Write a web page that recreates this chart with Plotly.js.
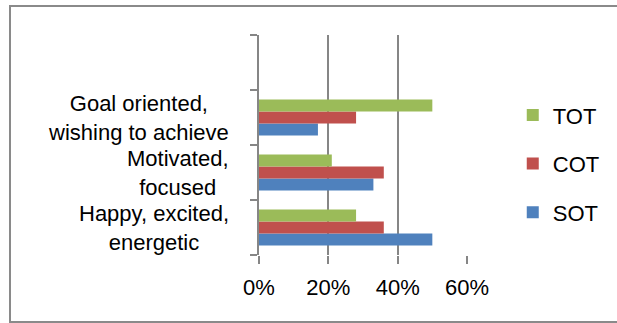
<!DOCTYPE html>
<html>
<head>
<meta charset="utf-8">
<script src="https://cdn.plot.ly/plotly-3.0.1.min.js"></script>
<style>
  html, body { margin: 0; padding: 0; background: #fff; }
  #wrap { position: relative; width: 617px; height: 323px; overflow: hidden; }
  #chart { position: absolute; left: 0; top: 0; width: 617px; height: 323px; }
  #frame { position: absolute; left: 9px; top: 5px; width: 640px; height: 314px;
           border-left: 2px solid #8a8a8a; border-top: 2px solid #8a8a8a; border-bottom: 2px solid #8a8a8a;
           pointer-events: none; }
</style>
</head>
<body>
<div id="wrap">
  <div id="chart"></div>
  <div id="frame"></div>
</div>
<script>
// Categories, bottom to top (top slot of the axis is empty)
const categories = ["Happy, excited,<br>energetic", "Motivated,<br>focused", "Goal oriented,<br>wishing to achieve"];
const seriesNames = ["SOT", "COT", "TOT"];
const SOT = [0.50, 0.33, 0.17];
const COT = [0.36, 0.36, 0.28];
const TOT = [0.28, 0.21, 0.50];
const colors = ["#4F81BD", "#C0504D", "#9BBB59"];
const xTickVals = [0, 0.2, 0.4, 0.6];
const xTickText = ["0%", "20%", "40%", "60%"];
const slotCount = 4;

const font = "Liberation Sans, Arial, sans-serif";
const pos = categories.map((c, i) => i);
const values = [SOT, COT, TOT];

const traces = values.map((v, k) => ({
  type: "bar",
  orientation: "h",
  name: seriesNames[k],
  x: v,
  y: pos,
  marker: { color: colors[k] },
  legendgroup: seriesNames[k],
  legendrank: values.length - k,
  hoverinfo: "none"
}));

const yBounds = [];
for (let i = 0; i <= slotCount; i++) yBounds.push(i - 0.5);

const annotations = categories.map((c, i) => ({
  xref: "paper", yref: "y",
  x: 0, xshift: -29,
  y: i,
  text: c,
  showarrow: false,
  xanchor: "right",
  yanchor: "middle",
  align: "center",
  borderpad: 0,
  font: { family: font, size: 22, color: "#000" }
}));

const layout = {
  width: 617, height: 323,
  margin: { l: 259, r: 147, t: 35, b: 68 },
  paper_bgcolor: "#fff",
  plot_bgcolor: "#fff",
  barmode: "group",
  bargap: 0.345,
  bargroupgap: 0,
  showlegend: true,
  legend: {
    x: 1.22, xanchor: "left",
    y: 0.731, yanchor: "top",
    traceorder: "grouped",
    tracegroupgap: 17,
    font: { family: font, size: 22, color: "#000" },
    bgcolor: "rgba(0,0,0,0)"
  },
  xaxis: {
    range: [0, 0.6],
    tickvals: xTickVals,
    ticktext: xTickText,
    showgrid: true,
    gridcolor: "#868686",
    gridwidth: 2,
    zeroline: false,
    showline: false,
    ticks: "outside",
    ticklen: 8,
    tickwidth: 2,
    tickcolor: "#868686",
    ticklabelstandoff: 5,
    tickfont: { family: font, size: 22, color: "#000" },
    fixedrange: true
  },
  yaxis: {
    range: [-0.5, slotCount - 0.5],
    tickvals: yBounds,
    showticklabels: false,
    showgrid: false,
    zeroline: false,
    showline: true,
    linecolor: "#868686",
    linewidth: 2,
    ticks: "outside",
    ticklen: 7,
    tickwidth: 2,
    tickcolor: "#868686",
    fixedrange: true
  },
  annotations: annotations
};

Plotly.newPlot("chart", traces, layout, { displayModeBar: false, staticPlot: true });
</script>
</body>
</html>
